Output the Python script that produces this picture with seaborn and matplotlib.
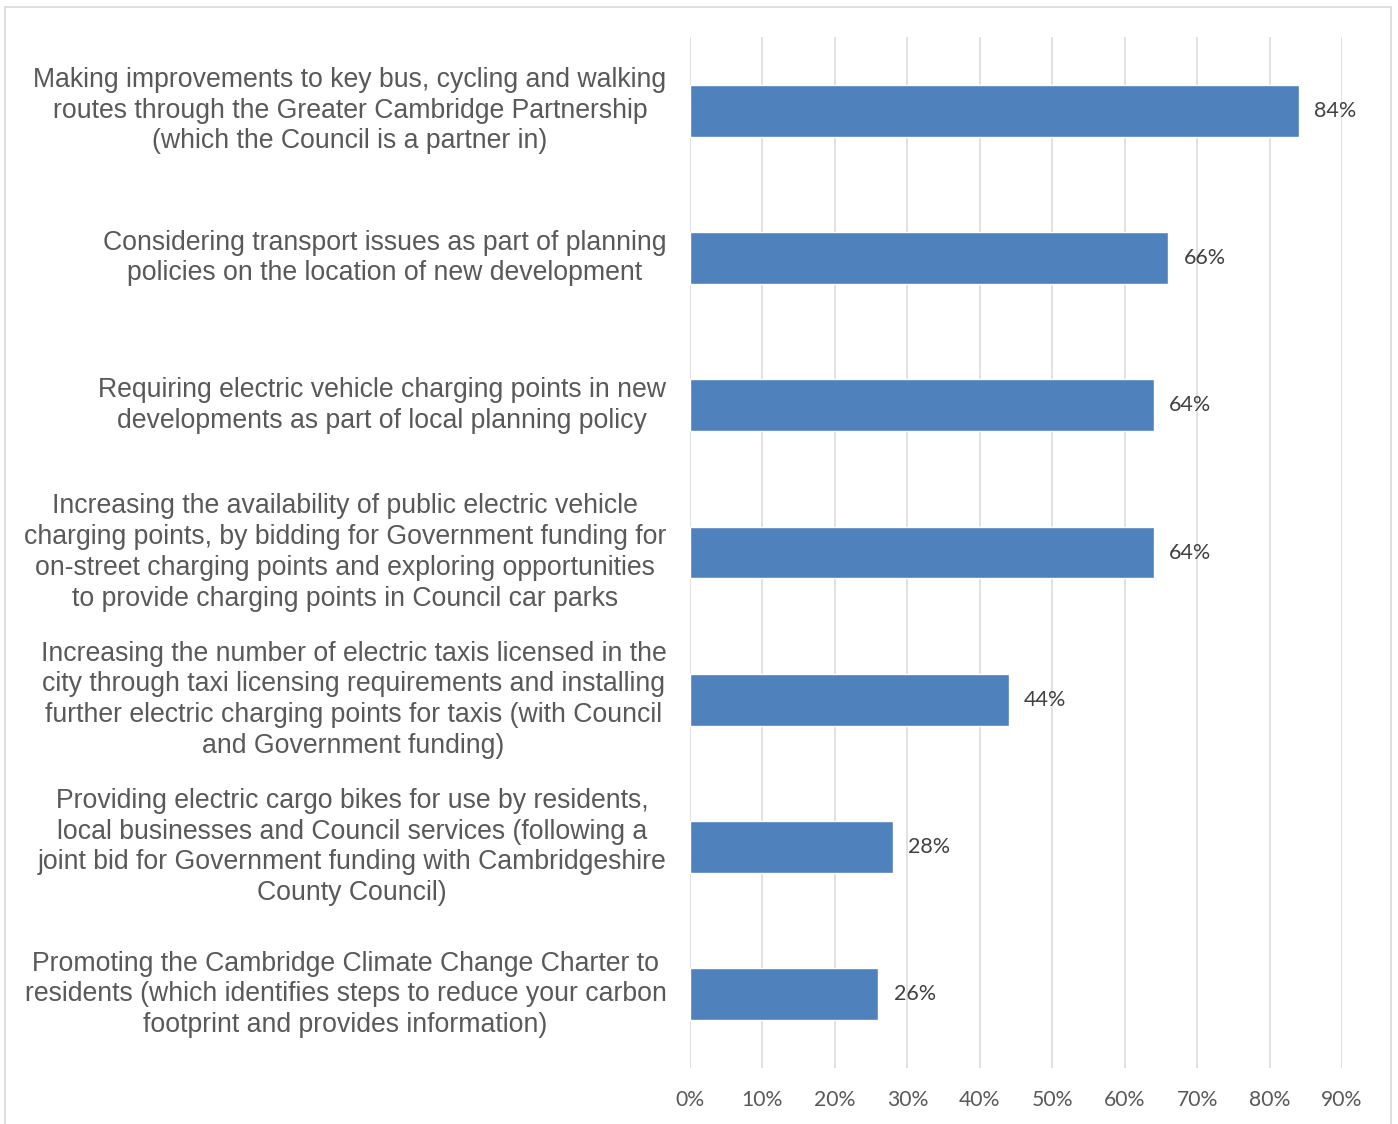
import matplotlib
matplotlib.use("Agg")
import matplotlib.pyplot as plt
from matplotlib.lines import Line2D
import seaborn as sns
import pandas as pd

# Survey: support for council transport actions (% of respondents)
actions = [
    "Making improvements to key bus, cycling and walking\nroutes through the Greater Cambridge Partnership\n(which the Council is a partner in)",
    "Considering transport issues as part of planning\npolicies on the location of new development",
    "Requiring electric vehicle charging points in new\ndevelopments as part of local planning policy",
    "Increasing the availability of public electric vehicle\ncharging points, by bidding for Government funding for\non-street charging points and exploring opportunities\nto provide charging points in Council car parks",
    "Increasing the number of electric taxis licensed in the\ncity through taxi licensing requirements and installing\nfurther electric charging points for taxis (with Council\nand Government funding)",
    "Providing electric cargo bikes for use by residents,\nlocal businesses and Council services (following a\njoint bid for Government funding with Cambridgeshire\nCounty Council)",
    "Promoting the Cambridge Climate Change Charter to\nresidents (which identifies steps to reduce your carbon\nfootprint and provides information)",
]
support_pct = [84, 66, 64, 64, 44, 28, 26]
x_ticks = [0, 10, 20, 30, 40, 50, 60, 70, 80, 90]
x_tick_labels = [f"{t}%" for t in x_ticks]

df = pd.DataFrame({"action": actions, "pct": support_pct})

sns.set_theme(style="white")
plt.rcParams["font.family"] = ["Liberation Sans", "DejaVu Sans"]

W, H = 1398, 1124
fig = plt.figure(figsize=(W / 100, H / 100), dpi=100)
ax = fig.add_axes([690 / W, 1 - 1068 / H, (1342 - 690) / W, (1068 - 37) / H])

sns.barplot(data=df, y="action", x="pct", orient="h", color="#4F81BD",
            saturation=1, width=0.353, ax=ax, zorder=3)

ax.set_xlim(0, 90)
ax.set_xticks(x_ticks)
ax.set_xticklabels(x_tick_labels, fontfamily=["Lato", "DejaVu Sans"],
                   fontsize=15.2, color="#595959")
ax.set_xlabel("")
ax.set_ylabel("")
ax.grid(axis="x", color="#D9D9D9", linewidth=1.1, zorder=0)
ax.grid(axis="y", visible=False)
for s in ax.spines.values():
    s.set_visible(False)
ax.tick_params(axis="both", length=0)
ax.tick_params(axis="x", pad=16)
ax.tick_params(axis="y", pad=17)

for lab in ax.get_yticklabels():
    lab.set_fontsize(19.2)
    lab.set_color("#595959")
    lab.set_multialignment("center")
    lab.set_verticalalignment("center")
    lab.set_linespacing(1.24)

for cont in ax.containers:
    ax.bar_label(cont, labels=[f"{v}%" for v in support_pct], padding=11,
                 fontsize=15.5, color="#404040", fontfamily=["Lato", "DejaVu Sans"])

# light frame around the chart area
frame_kw = dict(color="#D9D9D9", linewidth=1.2, transform=fig.transFigure)
fig.add_artist(Line2D([5 / W, 1391 / W], [1 - 7 / H, 1 - 7 / H], **frame_kw))
fig.add_artist(Line2D([5 / W, 5 / W], [1 - 7 / H, 0], **frame_kw))
fig.add_artist(Line2D([1391 / W, 1391 / W], [1 - 7 / H, 0], **frame_kw))

fig.savefig("out.png", dpi=100)
